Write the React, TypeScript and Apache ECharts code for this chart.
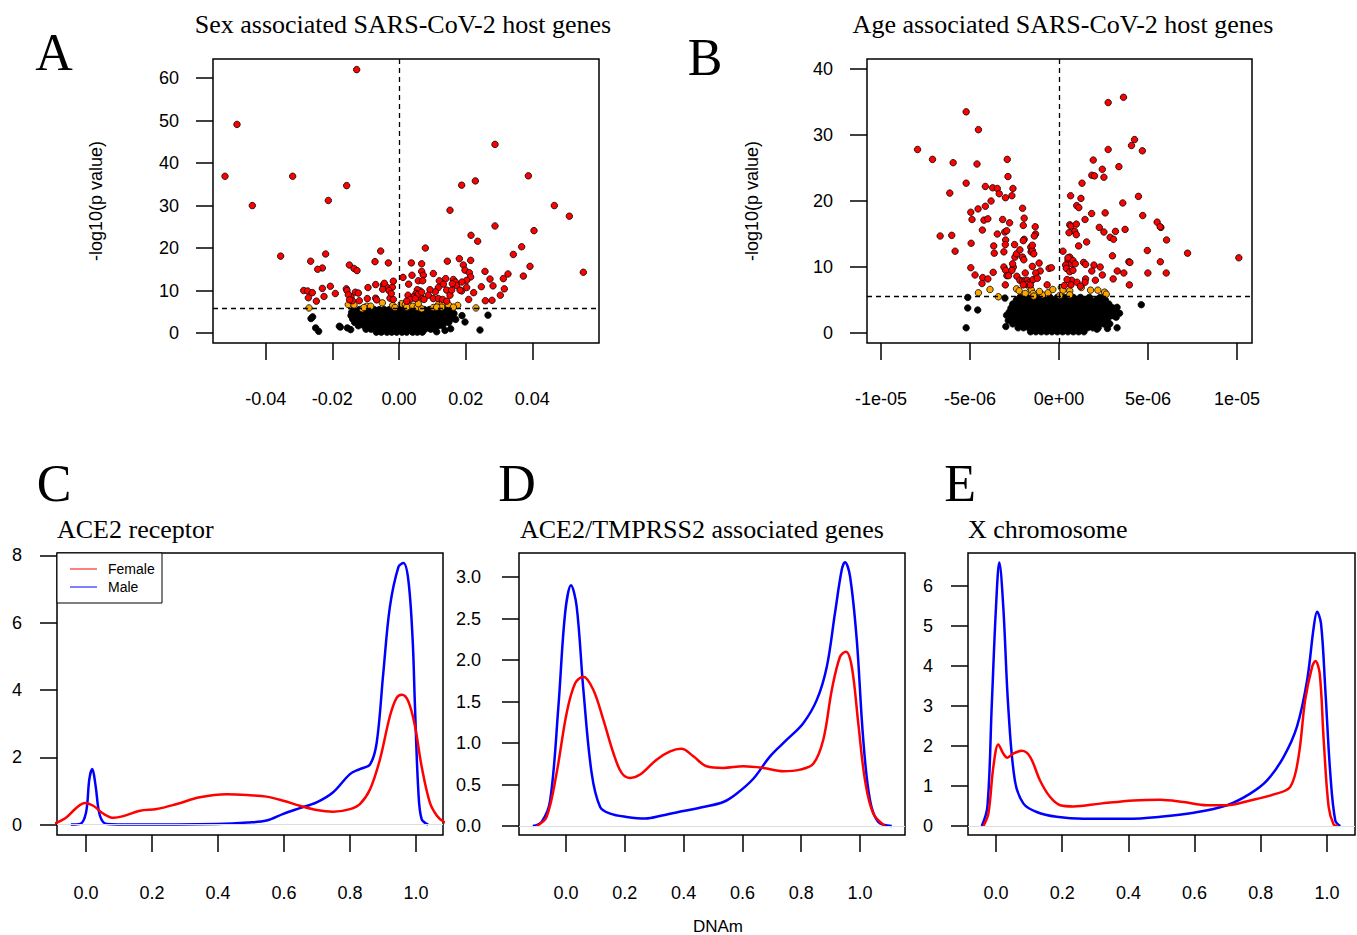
import React, { useEffect, useRef } from "react";
import * as echarts from "echarts";

// ---------------- DATA ----------------
// Panel A: sex associated (x = effect, y = -log10 p)
const sexRed: [number, number][] = [
  [-0.0127, 62.0], [-0.0486, 49.1], [-0.0522, 36.9], [-0.0319, 36.9], [-0.044, 30.0], [-0.0157, 34.7], [-0.0212, 31.2],
  [0.0288, 44.4], [0.0388, 37.0], [0.0229, 35.8], [0.0188, 34.8], [0.0153, 28.9], [0.0466, 30.0], [0.0511, 27.5],
  [0.0288, 25.2], [0.0405, 24.1], [0.0216, 23.0], [0.0236, 21.6], [0.0368, 20.3], [0.0343, 18.5], [0.0553, 14.3],
  [0.0393, 15.7], [0.0373, 13.4], [0.0327, 13.9], [0.0313, 12.8], [0.0316, 10.4], [0.0304, 8.9], [0.0279, 7.7],
  [0.0259, 7.6], [0.0282, 11.1], [0.0273, 12.7], [0.0258, 14.5], [0.0247, 10.9], [0.0224, 9.5], [0.0209, 7.9],
  [0.0215, 17.1], [0.0181, 17.5], [0.0193, 16.0], [0.0198, 14.8], [0.0211, 14.2], [0.0215, 13.2], [0.0203, 12.4],
  [0.0203, 10.7], [0.0188, 9.9], [0.0145, 16.9], [0.0079, 20.0], [0.0103, 14.0], [0.0068, 16.3], [0.0037, 16.5],
  [0.0068, 14.5], [0.0073, 13.6], [0.0039, 13.6], [0.0012, 13.1], [0.0058, 12.3], [0.0071, 12.3], [0.0029, 11.5],
  [0.0121, 12.3], [0.014, 12.8], [0.0163, 12.6], [0.0169, 12.0], [0.0173, 11.2], [0.016, 11.6], [0.0143, 10.1],
  [0.0133, 11.5], [0.0118, 10.7], [0.0109, 9.7], [0.0093, 10.2], [0.0088, 8.9], [0.0063, 9.9], [0.0055, 10.2],
  [0.0051, 9.3], [0.0065, 8.5], [0.0043, 8.5], [0.0027, 8.9], [0.0033, 7.9], [0.0023, 7.5], [0.0075, 7.9],
  [0.0103, 8.1], [0.0118, 8.1], [0.0131, 7.9], [0.0143, 7.5], [0.0153, 8.9], [0.0158, 10.1], [0.0183, 10.1],
  [0.0189, 12.0], [0.0058, 9.1], [0.0068, 9.6], [0.0049, 8.1],
  [-0.0355, 18.1], [-0.0265, 16.9], [-0.022, 18.6], [-0.023, 15.3], [-0.0244, 15.0], [-0.0286, 10.0], [-0.0274, 9.9],
  [-0.026, 9.5], [-0.0272, 8.3], [-0.0248, 7.5], [-0.023, 10.5], [-0.0225, 8.6], [-0.0206, 11.0], [-0.0191, 9.3],
  [-0.0158, 10.4], [-0.0156, 10.0], [-0.0149, 16.0], [-0.0135, 15.2], [-0.0126, 14.7], [-0.0072, 16.8], [-0.0055, 19.3],
  [-0.0032, 16.5], [-0.0093, 10.7], [-0.007, 11.4], [-0.0047, 11.3], [-0.0035, 10.7], [-0.002, 10.8], [-0.0017, 12.2],
  [-0.0144, 8.5], [-0.014, 7.6], [-0.0131, 9.6], [-0.0122, 9.4], [-0.0119, 7.6], [-0.0095, 8.1], [-0.007, 8.2],
  [-0.0067, 7.8], [-0.0049, 10.3], [-0.003, 10.0], [-0.0027, 8.2], [-0.0017, 7.9], [-0.0044, 11.7], [-0.0023, 9.3],
  [-0.0152, 9.0], [-0.0148, 7.8],
];
const sexOrange: [number, number][] = [
  [-0.027, 5.9], [-0.0152, 6.7], [-0.0135, 6.6], [-0.011, 5.7], [-0.0097, 6.3], [-0.0085, 6.3], [-0.005, 7.1],
  [-0.0019, 6.5], [0.0007, 6.9], [0.0019, 6.7], [0.003, 6.3], [0.0041, 6.3], [0.0055, 6.1], [0.0068, 5.7],
  [0.0103, 6.0], [0.0118, 6.7], [0.013, 6.9], [0.0148, 6.7], [0.0176, 6.5], [0.0231, 5.9], [0.0058, 6.9],
  [0.0128, 6.1], [0.0113, 6.1], [-0.0012, 6.0], [0.0023, 6.1], [0.0163, 6.1], [-0.0105, 6.0],
];
const sexBlack: [number, number][] = [
  [-0.0264, 3.4], [-0.0259, 3.8], [-0.025, 1.2], [-0.0241, 0.4], [-0.0179, 1.6], [-0.0176, 1.4], [0.0189, 4.1],
  [0.0198, 2.6], [0.0267, 4.2], [0.0243, 0.7], [0.0155, 1.0], [0.0148, 2.6], [0.0138, 0.6], [0.0113, 0.3],
  [-0.0145, 0.8], [-0.0155, 1.2], [0.017, 3.2], [0.0165, 4.6],
];
const sexBlobRows: [number, number[]][] = [
  [0.2, [-0.0068, -0.0053, -0.0036, -0.0022, -0.0007, 0.0009, 0.0023, 0.0041, 0.0055, 0.007]],
  [0.9, [-0.0099, -0.0084, -0.0068, -0.0055, -0.0038, -0.0025, -0.0009, 0.0006, 0.0019, 0.0036, 0.0049, 0.0065, 0.0078, 0.0095, 0.0107]],
  [1.7, [-0.0122, -0.0105, -0.0092, -0.0075, -0.0062, -0.0045, -0.0032, -0.0015, -0.0002, 0.0015, 0.0028, 0.0045, 0.0058, 0.0075, 0.0088, 0.0105, 0.0118, 0.0131]],
  [2.5, [-0.0133, -0.0116, -0.0103, -0.0086, -0.0073, -0.0056, -0.0043, -0.0026, -0.0013, 0.0004, 0.0017, 0.0034, 0.0047, 0.0064, 0.0077, 0.0094, 0.0107, 0.0124, 0.0137, 0.0149]],
  [3.3, [-0.0139, -0.0122, -0.0109, -0.0092, -0.0079, -0.0062, -0.0049, -0.0032, -0.0019, -0.0002, 0.0011, 0.0028, 0.0041, 0.0058, 0.0071, 0.0088, 0.0101, 0.0118, 0.0131, 0.0146, 0.0157]],
  [4.1, [-0.0144, -0.0127, -0.0114, -0.0097, -0.0084, -0.0067, -0.0054, -0.0037, -0.0024, -0.0007, 0.0006, 0.0023, 0.0036, 0.0053, 0.0066, 0.0083, 0.0096, 0.0113, 0.0126, 0.0143, 0.0156]],
  [4.9, [-0.0142, -0.0125, -0.0112, -0.0095, -0.0082, -0.0065, -0.0052, -0.0035, -0.0022, -0.0005, 0.0008, 0.0025, 0.0038, 0.0055, 0.0068, 0.0085, 0.0098, 0.0115, 0.0128, 0.0145, 0.0158]],
  [5.5, [-0.0136, -0.0119, -0.0104, -0.0089, -0.0074, -0.0059, -0.0044, -0.0029, -0.0014, 0.0001, 0.0016, 0.0031, 0.0046, 0.0061, 0.0076, 0.0091, 0.0106, 0.0121, 0.0136, 0.015]],
];
const sexThreshold = 5.8;
const sexXTicks = [-0.04, -0.02, 0, 0.02, 0.04];
const sexYTicks = [0, 10, 20, 30, 40, 50, 60];

// Panel B: age associated (x in units of 1e-6)
const ageRed: [number, number][] = [
  [-5.22, 33.5], [-4.53, 30.8], [-7.95, 27.8], [-7.11, 26.3], [-5.95, 25.8], [-4.61, 25.6], [-2.91, 26.3], [-2.87, 23.7],
  [-5.22, 22.7], [-6.14, 21.2], [-4.14, 22.2], [-3.73, 22.0], [-3.47, 21.9], [-2.59, 21.9], [-3.36, 21.1], [-3.01, 20.5],
  [-2.65, 20.8], [-3.82, 20.0], [-4.14, 19.2], [-4.55, 18.8], [-4.96, 18.3], [-4.89, 17.2], [-4.22, 17.1], [-4.0, 17.3],
  [-4.31, 15.6], [-3.17, 17.2], [-2.78, 16.7], [-2.05, 18.9], [-1.96, 17.4], [-2.01, 16.3], [-1.34, 16.1], [-1.32, 15.0],
  [-1.39, 14.7], [-3.47, 15.0], [-3.05, 15.3], [-2.94, 15.5], [-3.0, 14.1], [-3.02, 13.4], [-2.5, 13.4], [-1.96, 14.2],
  [-2.01, 14.0], [-3.67, 13.2], [-3.64, 12.1], [-3.1, 12.3], [-6.68, 14.7], [-6.03, 14.8], [-5.84, 12.4], [-4.94, 13.6],
  [-4.96, 9.9], [-4.72, 8.8], [-4.29, 8.4], [-4.0, 8.2], [-4.33, 7.5], [-3.7, 9.2], [-3.02, 7.3], [-3.1, 10.0],
  [-3.0, 9.5], [-2.93, 8.7], [-2.84, 8.7], [-2.57, 10.0], [-2.65, 9.5], [-2.61, 10.5], [-2.48, 11.5], [-2.39, 12.0],
  [-2.2, 12.6], [-2.05, 11.5], [-1.98, 11.1], [-1.59, 13.0], [-1.57, 12.3], [-1.5, 12.5], [-1.42, 12.0], [-1.5, 13.3],
  [-1.12, 10.6], [-1.06, 9.4], [-1.31, 9.1], [-1.5, 10.1], [-1.9, 9.1], [-2.37, 8.6], [-2.2, 8.0], [-2.05, 7.9],
  [-1.92, 7.9], [-1.79, 8.0], [-1.64, 7.7], [-1.83, 7.4], [-2.01, 7.3], [-1.61, 7.3], [-1.46, 8.1], [-1.22, 8.3],
  [-0.67, 7.3], [-0.56, 9.8], [-0.43, 9.9],
  [2.76, 34.9], [3.62, 35.7], [4.24, 29.3], [4.07, 28.4], [4.68, 27.6], [2.76, 27.8], [1.92, 26.2], [2.43, 24.8],
  [2.52, 23.6], [1.84, 23.9], [1.99, 23.8], [3.36, 25.2], [1.29, 22.7], [0.65, 20.8], [1.23, 20.4], [0.99, 19.3],
  [1.11, 19.0], [3.58, 19.7], [4.46, 20.7], [4.7, 17.8], [2.59, 18.2], [1.83, 18.1], [1.46, 17.2], [0.6, 16.4],
  [0.67, 16.2], [0.97, 16.5], [0.88, 15.4], [0.97, 14.9], [0.56, 15.2], [2.26, 16.0], [2.52, 15.3], [3.17, 15.4],
  [2.87, 14.5], [3.06, 14.2], [3.71, 15.7], [5.51, 16.8], [5.72, 16.0], [5.68, 16.1], [6.04, 14.1], [1.55, 13.8],
  [1.1, 13.2], [4.96, 12.5], [7.22, 12.1], [10.1, 11.4], [3.0, 11.7], [3.92, 10.8], [3.98, 10.7], [5.69, 10.8],
  [0.22, 12.4], [0.6, 11.5], [0.5, 11.0], [0.69, 10.5], [0.78, 11.0], [0.91, 10.5], [0.37, 10.3], [0.41, 9.8],
  [0.6, 9.3], [0.78, 9.5], [0.5, 11.4], [1.38, 10.7], [1.49, 10.4], [1.96, 10.3], [2.31, 10.0], [1.84, 9.4],
  [2.43, 8.8], [2.04, 8.0], [3.27, 9.4], [3.64, 9.1], [3.04, 8.2], [3.95, 7.3], [4.99, 9.1], [6.02, 9.1],
  [1.49, 8.2], [1.46, 7.7], [0.71, 8.0], [0.45, 8.1], [0.67, 7.3], [1.01, 7.7], [1.2, 7.1], [0.3, 7.2],
];
const ageOrange: [number, number][] = [
  [-4.53, 6.1], [-3.88, 6.6], [-3.41, 5.5], [-2.39, 6.7], [-2.24, 6.4], [-1.64, 6.9], [-1.55, 6.5], [-1.46, 6.0],
  [-1.42, 5.6], [-0.93, 5.8], [-0.62, 6.1], [-0.35, 6.6], [0.13, 6.9], [0.22, 6.5], [0.6, 6.4], [0.6, 5.8],
  [1.25, 6.9], [1.77, 6.5], [2.18, 6.5], [2.56, 6.2], [2.65, 5.9], [0.04, 5.7], [-1.9, 6.0], [-1.1, 6.3],
];
const ageBlack: [number, number][] = [
  [-5.13, 5.4], [-5.13, 3.8], [-4.57, 3.5], [-5.22, 0.8], [-3.04, 5.3], [-2.95, 2.7], [4.62, 4.3], [3.26, 3.9],
  [3.02, 3.8], [3.21, 2.4], [2.85, 1.4], [2.72, 0.7], [3.26, 0.8], [2.13, 0.6], [-2.99, 1.0], [-2.57, 1.8],
  [-2.85, 1.9], [3.4, 3.0],
];
const ageBlobRows: [number, number[]][] = [
  [0.2, [-1.6, -1.3, -1.0, -0.7, -0.4, -0.1, 0.2, 0.5, 0.8, 1.1, 1.4]],
  [0.8, [-2.3, -2.0, -1.7, -1.4, -1.1, -0.8, -0.5, -0.2, 0.1, 0.4, 0.7, 1.0, 1.3, 1.6, 1.9, 2.2]],
  [1.4, [-2.6, -2.3, -2.0, -1.7, -1.4, -1.1, -0.8, -0.5, -0.2, 0.1, 0.4, 0.7, 1.0, 1.3, 1.6, 1.9, 2.2, 2.5]],
  [2.0, [-2.7, -2.4, -2.1, -1.8, -1.5, -1.2, -0.9, -0.6, -0.3, 0.0, 0.3, 0.6, 0.9, 1.2, 1.5, 1.8, 2.1, 2.4, 2.7]],
  [2.6, [-2.8, -2.5, -2.2, -1.9, -1.6, -1.3, -1.0, -0.7, -0.4, -0.1, 0.2, 0.5, 0.8, 1.1, 1.4, 1.7, 2.0, 2.3, 2.6, 2.9, 3.1]],
  [3.2, [-2.8, -2.5, -2.2, -1.9, -1.6, -1.3, -1.0, -0.7, -0.4, -0.1, 0.2, 0.5, 0.8, 1.1, 1.4, 1.7, 2.0, 2.3, 2.6, 2.9, 3.2]],
  [3.8, [-2.7, -2.4, -2.1, -1.8, -1.5, -1.2, -0.9, -0.6, -0.3, 0.0, 0.3, 0.6, 0.9, 1.2, 1.5, 1.8, 2.1, 2.4, 2.7, 3.0]],
  [4.4, [-2.6, -2.3, -2.0, -1.7, -1.4, -1.1, -0.8, -0.5, -0.2, 0.1, 0.4, 0.7, 1.0, 1.3, 1.6, 1.9, 2.2, 2.5, 2.8]],
  [5.0, [-2.4, -2.1, -1.8, -1.5, -1.2, -0.9, -0.6, -0.3, 0.0, 0.3, 0.6, 0.9, 1.2, 1.5, 1.8, 2.1, 2.4, 2.6]],
  [5.4, [-2.2, -1.8, -1.3, -0.9, -0.5, -0.1, 0.3, 0.8, 1.2, 1.7, 2.3]],
];
const ageThreshold = 5.6;
const ageXTicks = [-10, -5, 0, 5, 10];
const ageXTickLabels = ["-1e-05", "-5e-06", "0e+00", "5e-06", "1e-05"];
const ageYTicks = [0, 10, 20, 30, 40];

// Panels C-E: DNAm density curves
const dnamTicks = [0, 0.2, 0.4, 0.6, 0.8, 1.0];
const aceYTicks = [0, 2, 4, 6, 8];
const tmpYTicks = [0, 0.5, 1.0, 1.5, 2.0, 2.5, 3.0];
const xchrYTicks = [0, 1, 2, 3, 4, 5, 6];

const aceFemale: [number, number][] = [
  [-0.1, 0.03], [-0.088, 0.06], [-0.059, 0.22], [-0.028, 0.51], [-0.003, 0.64], [0.022, 0.56], [0.053, 0.32], [0.083, 0.2],
  [0.113, 0.25], [0.164, 0.41], [0.214, 0.46], [0.275, 0.61], [0.345, 0.81], [0.426, 0.9], [0.487, 0.88],
  [0.547, 0.83], [0.598, 0.71], [0.648, 0.56], [0.699, 0.43], [0.749, 0.38], [0.8, 0.46], [0.83, 0.61],
  [0.861, 1.05], [0.891, 1.94], [0.921, 3.22], [0.941, 3.76], [0.957, 3.86], [0.977, 3.66], [0.997, 2.93],
  [1.017, 1.74], [1.042, 0.66], [1.063, 0.27], [1.083, 0.09], [1.1, 0.03],
];
const aceMale: [number, number][] = [
  [-0.046, 0], [-0.018, 0.02], [0, 0.36], [0.01, 1.35], [0.019, 1.65], [0.029, 1.15], [0.042, 0.27], [0.063, 0.02],
  [0.143, 0], [0.396, 0.02], [0.49, 0.06], [0.547, 0.12], [0.598, 0.32], [0.648, 0.49], [0.699, 0.66], [0.749, 0.96],
  [0.8, 1.5], [0.83, 1.65], [0.861, 1.79], [0.881, 2.43], [0.901, 4.5], [0.921, 6.47], [0.947, 7.66], [0.962, 7.77],
  [0.977, 7.26], [0.99, 5.49], [0.997, 3.52], [1.007, 1.05], [1.017, 0.17], [1.037, 0],
];
const tmpFemale: [number, number][] = [
  [-0.1, 0], [-0.066, 0.11], [-0.032, 0.64], [0.002, 1.36], [0.031, 1.72], [0.059, 1.8], [0.093, 1.64], [0.127, 1.28],
  [0.161, 0.88], [0.189, 0.64], [0.218, 0.58], [0.252, 0.62], [0.308, 0.8], [0.354, 0.9], [0.393, 0.93], [0.433, 0.84],
  [0.478, 0.72], [0.535, 0.7], [0.603, 0.72], [0.671, 0.7], [0.739, 0.66], [0.796, 0.68], [0.841, 0.75], [0.875, 1.04],
  [0.904, 1.64], [0.932, 2.04], [0.952, 2.1], [0.972, 1.92], [0.994, 1.24], [1.017, 0.55], [1.045, 0.15], [1.085, 0],
];
const tmpMale: [number, number][] = [
  [-0.113, 0], [-0.083, 0.05], [-0.054, 0.31], [-0.026, 1.44], [-0.003, 2.57], [0.017, 2.9], [0.036, 2.65], [0.059, 1.64],
  [0.087, 0.64], [0.116, 0.23], [0.15, 0.15], [0.206, 0.11], [0.269, 0.09], [0.331, 0.13], [0.399, 0.18], [0.467, 0.23],
  [0.535, 0.29], [0.58, 0.39], [0.637, 0.57], [0.694, 0.84], [0.751, 1.04], [0.807, 1.24], [0.853, 1.52], [0.887, 1.92],
  [0.915, 2.57], [0.938, 3.09], [0.949, 3.18], [0.966, 3.01], [0.989, 2.24], [1.011, 1.04], [1.034, 0.31], [1.062, 0.05],
  [1.108, 0],
];
const xchrFemale: [number, number][] = [
  [-0.038, 0], [-0.023, 0.31], [-0.008, 1.48], [0.007, 2.04], [0.022, 1.81], [0.034, 1.71], [0.052, 1.81], [0.078, 1.88],
  [0.103, 1.73], [0.133, 1.14], [0.163, 0.73], [0.194, 0.52], [0.234, 0.49], [0.315, 0.56], [0.415, 0.64], [0.496, 0.66],
  [0.567, 0.6], [0.637, 0.52], [0.698, 0.52], [0.768, 0.64], [0.839, 0.79], [0.889, 0.98], [0.914, 1.73], [0.934, 3.15],
  [0.955, 3.98], [0.965, 4.13], [0.978, 3.81], [0.99, 2.15], [1.005, 0.48], [1.02, 0.04], [1.032, 0],
];
const xchrMale: [number, number][] = [
  [-0.043, 0], [-0.026, 0.48], [-0.013, 2.98], [0, 5.48], [0.01, 6.59], [0.022, 5.48], [0.037, 2.98], [0.057, 1.14],
  [0.083, 0.56], [0.123, 0.35], [0.183, 0.23], [0.264, 0.18], [0.395, 0.18], [0.496, 0.23], [0.597, 0.33], [0.698, 0.52],
  [0.768, 0.81], [0.819, 1.14], [0.869, 1.73], [0.909, 2.48], [0.94, 3.65], [0.96, 4.98], [0.97, 5.36], [0.982, 5.06],
  [0.995, 3.4], [1.01, 1.31], [1.025, 0.14], [1.04, 0],
];

const legendNames = ["Female", "Male"];

// ---------------- HELPERS ----------------
const SANS = "'Liberation Sans', Arial, Helvetica, sans-serif";
const SERIF = "'Liberation Serif', 'Times New Roman', serif";
const RED = "#FF0000";
const BLUE = "#0000FF";
const ORANGE = "#FFA500";
const TICK_FONT = 18;

function blobPoints(rows: [number, number[]][]): [number, number][] {
  const out: [number, number][] = [];
  rows.forEach(([y, xs]) => xs.forEach((x) => out.push([x, y])));
  return out;
}

function axis(gridIndex: number, min: number, max: number, ticks: number[], fmt: (v: number) => string, margin: number) {
  return {
    type: "value", gridIndex, min, max, scale: true,
    axisLine: { show: false, onZero: false }, splitLine: { show: false },
    axisTick: { show: true, length: 17, customValues: ticks, lineStyle: { color: "#000", width: 1.5 } },
    axisLabel: { show: true, customValues: ticks, formatter: fmt, margin, color: "#000", fontSize: TICK_FONT, fontFamily: SANS },
  };
}
const gridBox = { show: true, borderColor: "#000", borderWidth: 1.5, backgroundColor: "transparent", containLabel: false };

function scatter(idx: number, data: [number, number][], color: string, extra: any = {}) {
  return {
    type: "scatter", xAxisIndex: idx, yAxisIndex: idx, data, symbolSize: 6.5, silent: true,
    itemStyle: { color, borderColor: "#000", borderWidth: 0.8, opacity: 1 },
    ...extra,
  };
}
function dashed(threshold: number) {
  return {
    silent: true, symbol: ["none", "none"], label: { show: false },
    lineStyle: { color: "#000", type: [5, 4], width: 1.3 },
    data: [{ xAxis: 0 }, { yAxis: threshold }],
  };
}
function curve(idx: number, data: [number, number][], color: string, name: string, extra: any = {}) {
  return {
    type: "line", name, xAxisIndex: idx, yAxisIndex: idx, data, showSymbol: false, smooth: 0.35, silent: true,
    lineStyle: { color, width: 2.5 }, itemStyle: { color }, ...extra,
  };
}
const zeroLine = {
  silent: true, symbol: ["none", "none"], label: { show: false },
  lineStyle: { color: "#dddddd", type: "solid", width: 1.2 },
  data: [{ yAxis: 0 }],
};

function txt(text: string, x: number, y: number, font: string, align = "center", extra: any = {}) {
  return {
    type: "text", x, y, silent: true,
    style: { text, font, fill: "#000", align, verticalAlign: "middle" },
    ...extra,
  };
}

export default function App() {
  const ref = useRef<HTMLDivElement>(null);
  useEffect(() => {
    if (!ref.current) return;
    const chart = echarts.init(ref.current, null, { renderer: "svg" });
    const f2 = (v: number) => v.toFixed(2);
    const f1 = (v: number) => v.toFixed(1);
    const f0 = (v: number) => String(Math.round(v));
    const ageFmt = (v: number) => ageXTickLabels[ageXTicks.indexOf(Math.round(v))] ?? "";

    const option: any = {
      animation: false,
      backgroundColor: "#fff",
      grid: [
        { ...gridBox, left: 213, top: 59, width: 386, height: 284 },
        { ...gridBox, left: 867, top: 59, width: 385, height: 284 },
        { ...gridBox, left: 57, top: 553, width: 386, height: 282 },
        { ...gridBox, left: 519, top: 553, width: 386, height: 282 },
        { ...gridBox, left: 968, top: 553, width: 387, height: 282 },
      ],
      xAxis: [
        axis(0, -0.0558, 0.06, sexXTicks, f2, 47),
        axis(1, -10.79, 10.84, ageXTicks, ageFmt, 47),
        axis(2, -0.088, 1.082, dnamTicks, f1, 49),
        axis(3, -0.16, 1.153, dnamTicks, f1, 49),
        axis(4, -0.0846, 1.0846, dnamTicks, f1, 49),
      ],
      yAxis: [
        axis(0, -2.35, 64.5, sexYTicks, f0, 34),
        axis(1, -1.5, 41.5, ageYTicks, f0, 34),
        axis(2, -0.31, 8.07, aceYTicks, f0, 35),
        axis(3, -0.108, 3.29, tmpYTicks, f1, 38),
        axis(4, -0.225, 6.83, xchrYTicks, f0, 35),
      ],
      series: [
        scatter(0, [...blobPoints(sexBlobRows), ...sexBlack], "#000", { markLine: dashed(sexThreshold), z: 2 }),
        scatter(0, sexOrange, ORANGE, { z: 3 }),
        scatter(0, sexRed, RED, { z: 4 }),
        scatter(1, [...blobPoints(ageBlobRows), ...ageBlack], "#000", { markLine: dashed(ageThreshold), z: 2 }),
        scatter(1, ageOrange, ORANGE, { z: 3 }),
        scatter(1, ageRed, RED, { z: 4 }),
        curve(2, aceMale, BLUE, legendNames[1], { markLine: zeroLine }),
        curve(2, aceFemale, RED, legendNames[0]),
        curve(3, tmpMale, BLUE, legendNames[1], { markLine: zeroLine }),
        curve(3, tmpFemale, RED, legendNames[0]),
        curve(4, xchrMale, BLUE, legendNames[1], { markLine: zeroLine }),
        curve(4, xchrFemale, RED, legendNames[0]),
      ],
      graphic: [
        txt("A", 54, 52, `52px ${SERIF}`),
        txt("B", 705, 57, `52px ${SERIF}`),
        txt("C", 54, 483, `52px ${SERIF}`),
        txt("D", 517, 483, `52px ${SERIF}`),
        txt("E", 960, 483, `52px ${SERIF}`),
        txt("Sex associated SARS-CoV-2 host genes", 403, 24, `26px ${SERIF}`),
        txt("Age associated SARS-CoV-2 host genes", 1063, 24, `26px ${SERIF}`),
        txt("ACE2 receptor", 57, 529, `26px ${SERIF}`, "left"),
        txt("ACE2/TMPRSS2 associated genes", 520, 529, `26px ${SERIF}`, "left"),
        txt("X chromosome", 968, 529, `26px ${SERIF}`, "left"),
        txt("-log10(p value)", 96, 201, `18px ${SANS}`, "center", { rotation: Math.PI / 2 }),
        txt("-log10(p value)", 752, 201, `18px ${SANS}`, "center", { rotation: Math.PI / 2 }),
        txt("DNAm", 718, 926, `17px ${SANS}`),
        {
          type: "rect", silent: true, shape: { x: 57, y: 553, width: 105, height: 50 },
          style: { fill: "#fff", stroke: "#000", lineWidth: 1 }, z: 10,
        },
        { type: "line", silent: true, z: 11, shape: { x1: 70, y1: 569, x2: 97, y2: 569 }, style: { stroke: RED, lineWidth: 1 } },
        { type: "line", silent: true, z: 11, shape: { x1: 70, y1: 587, x2: 97, y2: 587 }, style: { stroke: BLUE, lineWidth: 1 } },
        txt(legendNames[0], 108, 569, `14px ${SANS}`, "left", { z: 11 }),
        txt(legendNames[1], 108, 587, `14px ${SANS}`, "left", { z: 11 }),
      ],
    };
    chart.setOption(option);
    return () => chart.dispose();
  }, []);
  return <div ref={ref} style={{ position: "absolute", left: 0, top: 0, width: 1357, height: 935 }} />;
}
